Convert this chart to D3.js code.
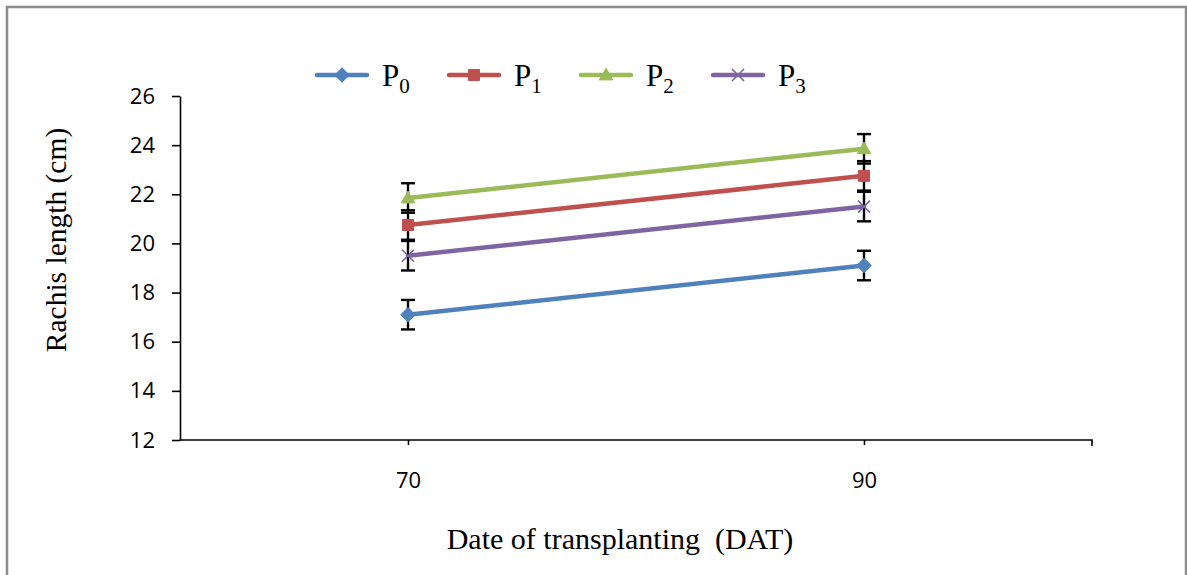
<!DOCTYPE html>
<html>
<head>
<meta charset="utf-8">
<script src="https://cdn.jsdelivr.net/npm/d3@7"></script>
<style>
  html, body { margin: 0; padding: 0; background: #fff; }
  svg { display: block; }
</style>
</head>
<body>
<svg id="chart" width="1187" height="575"></svg>
<script>
// Rachis length over days after transplanting, four P treatments
const categories = ["70", "90"];
const seriesNames = ["P0", "P1", "P2", "P3"];
const P0 = [17.1, 19.1];
const P1 = [20.75, 22.75];
const P2 = [21.85, 23.85];
const P3 = [19.5, 21.5];
const errorValue = [0.6, 0.6];
const yTicks = [12, 14, 16, 18, 20, 22, 24, 26];

const colors = ["#4F81BD", "#C0504D", "#9BBB59", "#8064A2"];
const series = [P0, P1, P2, P3].map((values, i) => ({
  name: seriesNames[i],
  values,
  color: colors[i],
  shape: ["diamond", "square", "triangle", "x"][i]
}));

const svg = d3.select("#chart");

// outer frame
svg.append("rect")
  .attr("x", 7).attr("y", 7)
  .attr("width", 1179).attr("height", 620)
  .attr("fill", "none")
  .attr("stroke", "#8c8c8c")
  .attr("stroke-width", 2.5);

const plot = { left: 180, right: 1092, top: 96, bottom: 440 };

const x = d3.scalePoint().domain(categories)
  .range([plot.left, plot.right]).padding(0.5);
const y = d3.scaleLinear().domain([12, 26])
  .range([plot.bottom, plot.top]);

// y axis
const yAxis = svg.append("g")
  .attr("transform", `translate(${plot.left},0)`)
  .call(d3.axisLeft(y).tickValues(yTicks).tickSize(8).tickSizeOuter(0).tickPadding(17));
yAxis.selectAll("path, line").attr("stroke", "#000").attr("stroke-width", 1.6);
yAxis.selectAll("text")
  .attr("font-family", "'Open Sans', sans-serif")
  .attr("font-size", 22).attr("fill", "#000");

// x axis
const xAxis = svg.append("g")
  .attr("transform", `translate(0,${plot.bottom})`)
  .call(d3.axisBottom(x).tickSize(5).tickSizeOuter(6).tickPadding(27));
xAxis.selectAll("path, line").attr("stroke", "#000").attr("stroke-width", 1.6);
xAxis.select("path.domain").attr("d", `M${plot.left},0H${plot.right}V6`);
xAxis.selectAll("text")
  .attr("font-family", "'Open Sans', sans-serif")
  .attr("font-size", 22).attr("fill", "#000");

// axis titles
svg.append("text")
  .attr("transform", `translate(66,240) rotate(-90)`)
  .attr("text-anchor", "middle")
  .attr("font-family", "'Liberation Serif', 'Times New Roman', serif")
  .attr("font-size", 29.5).attr("fill", "#000")
  .text("Rachis length (cm)");

svg.append("text")
  .attr("x", 620).attr("y", 549)
  .attr("text-anchor", "middle")
  .attr("font-family", "'Liberation Serif', 'Times New Roman', serif")
  .attr("font-size", 30).attr("fill", "#000")
  .attr("xml:space", "preserve")
  .style("white-space", "pre")
  .text("Date of transplanting  (DAT)");

function markerPath(shape) {
  if (shape === "diamond") return d3.symbol(d3.symbolSquare, 100)();
  if (shape === "square") return d3.symbol(d3.symbolSquare, 121)();
  if (shape === "triangle") return d3.symbol(d3.symbolTriangle, 80)();
  return d3.symbol(d3.symbolX, 96)();
}
function drawMarker(g, s, cx, cy) {
  const p = g.append("path")
    .attr("d", markerPath(s.shape))
    .attr("transform", `translate(${cx},${cy})` + (s.shape === "diamond" ? " rotate(45)" : "") + (s.shape === "triangle" ? " translate(0,1)" : ""));
  if (s.shape === "x") {
    p.attr("fill", "none").attr("stroke", s.color).attr("stroke-width", 1.6);
  } else {
    p.attr("fill", s.color).attr("stroke", s.color).attr("stroke-width", 1);
  }
}

// series lines
const line = d3.line().x((d, i) => x(categories[i])).y(d => y(d));
svg.append("g").selectAll("path").data(series).join("path")
  .attr("d", d => line(d.values))
  .attr("fill", "none")
  .attr("stroke", d => d.color)
  .attr("stroke-width", 4.5)
  .attr("stroke-linecap", "round");

// error bars
const eb = svg.append("g").attr("stroke", "#000").attr("stroke-width", 2.4);
series.forEach(s => {
  s.values.forEach((v, i) => {
    const cx = x(categories[i]);
    const e = errorValue[i];
    eb.append("line").attr("x1", cx).attr("x2", cx).attr("y1", y(v - e)).attr("y2", y(v + e));
    [v - e, v + e].forEach(t => {
      eb.append("line").attr("x1", cx - 7).attr("x2", cx + 7).attr("y1", y(t)).attr("y2", y(t));
    });
  });
});

// markers
const mk = svg.append("g");
series.forEach(s => {
  s.values.forEach((v, i) => drawMarker(mk, s, x(categories[i]), y(v)));
});

// legend
const legend = svg.append("g");
series.forEach((s, i) => {
  const lx = 317 + i * 132;
  const ly = 75;
  legend.append("line")
    .attr("x1", lx).attr("x2", lx + 50).attr("y1", ly).attr("y2", ly)
    .attr("stroke", s.color).attr("stroke-width", 4.5).attr("stroke-linecap", "round");
  drawMarker(legend, s, lx + 25, ly);
  const t = legend.append("text")
    .attr("x", lx + 65).attr("y", 86)
    .attr("font-family", "'Liberation Serif', 'Times New Roman', serif")
    .attr("font-size", 31).attr("fill", "#000");
  t.append("tspan").text(s.name[0]);
  t.append("tspan").attr("dy", 7).attr("font-size", 21).text(s.name.slice(1));
});
</script>
</body>
</html>
